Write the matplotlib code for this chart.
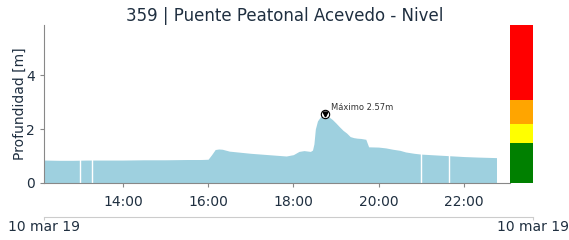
import numpy as np
import pandas as pd
import matplotlib
matplotlib.use("Agg")
import matplotlib.pyplot as plt
import matplotlib.dates as mdates

# datos del sensor (hora, profundidad en m)
horas = ["12:09", "12:30", "12:50", "13:10", "13:30", "14:00", "14:30", "15:00", "15:30", "15:50",
         "16:00", "16:05", "16:10", "16:15", "16:20", "16:30", "16:45", "17:00", "17:15", "17:30",
         "17:50", "18:00", "18:08", "18:15", "18:24", "18:27", "18:29", "18:31", "18:34", "18:38",
         "18:42", "18:45", "18:50", "18:55", "19:00", "19:05", "19:10", "19:15", "19:20", "19:25",
         "19:30", "19:35", "19:42", "19:46", "20:00", "20:10", "20:20", "20:30", "20:38", "20:50",
         "21:00", "21:20", "21:40", "22:00", "22:20", "22:46"]
nivel = [0.85, 0.84, 0.84, 0.85, 0.85, 0.85, 0.86, 0.86, 0.87, 0.87,
         0.88, 1.05, 1.24, 1.26, 1.25, 1.18, 1.14, 1.10, 1.07, 1.04,
         1.00, 1.05, 1.17, 1.20, 1.17, 1.22, 1.45, 2.00, 2.30, 2.45,
         2.52, 2.57, 2.45, 2.35, 2.22, 2.08, 1.95, 1.85, 1.72, 1.68,
         1.66, 1.65, 1.62, 1.34, 1.33, 1.30, 1.25, 1.21, 1.15, 1.10,
         1.07, 1.04, 1.01, 0.98, 0.96, 0.94]
# huecos sin datos
huecos = ["13:00", "13:16", "21:00", "21:39"]

# umbrales de alerta
umbrales = [0, 1.48, 2.19, 3.07, 5.85]
colores_alerta = ["#008000", "#ffff00", "#ffa500", "#ff0000"]

fecha = "2019-03-10 "
t = pd.to_datetime([fecha + h for h in horas])
t_huecos = pd.to_datetime([fecha + h for h in huecos])
nivel = np.array(nivel)

texto = "#1f2f40"
gris = "#888888"

fig = plt.figure(figsize=(5.69, 2.40), dpi=100)
ax = fig.add_axes([0.0773, 0.2375, 0.819, 0.658])
ax.fill_between(t, nivel, color="#9ed0df", lw=0)
for h in t_huecos:
    ax.axvline(h, color="white", lw=1)

# maximo
i_max = int(np.argmax(nivel))
ax.plot(t[i_max], nivel[i_max], "o", ms=6, mfc="white", mec="black", mew=0.8)
ax.plot(t[i_max], nivel[i_max], "v", ms=3.5, color="black")
ax.annotate("Máximo %.2fm" % nivel[i_max], (t[i_max], nivel[i_max]),
            xytext=(6, 4), textcoords="offset pixels", fontsize=6, color="#333333")

ax.set_xlim(pd.Timestamp(fecha + "12:09"), pd.Timestamp(fecha + "23:05"))
ax.set_ylim(0, 5.85)
ax.set_yticks([0, 2, 4])
ax.xaxis.set_major_locator(mdates.HourLocator(byhour=[14, 16, 18, 20, 22]))
ax.xaxis.set_major_formatter(mdates.DateFormatter("%H:%M"))
for s in ["top", "right"]:
    ax.spines[s].set_visible(False)
for s in ["left", "bottom"]:
    ax.spines[s].set_color(gris)
ax.tick_params(colors=gris, labelcolor=texto, labelsize=10, length=3)
ax.tick_params(axis="x", pad=6)
ax.set_ylabel("Profundidad [m]", fontsize=10, color=texto)
ax.yaxis.set_label_coords(-0.036, 0.5)
fig.suptitle("359 | Puente Peatonal Acevedo - Nivel", fontsize=12, color=texto, y=0.97)

# barra de alertas
axc = fig.add_axes([0.8963, 0.2375, 0.0404, 0.658])
for k in range(len(colores_alerta)):
    axc.bar(0, umbrales[k + 1] - umbrales[k], bottom=umbrales[k], width=1,
            color=colores_alerta[k])
axc.set_xlim(-0.5, 0.5)
axc.set_ylim(0, 5.85)
axc.axis("off")

# eje de fechas
axd = fig.add_axes([0.0773, 0.0958, 0.8594, 0.01])
axd.set_xlim(0, 1)
axd.set_yticks([])
for s in ["top", "right", "left"]:
    axd.spines[s].set_visible(False)
axd.spines["bottom"].set_color("#cccccc")
axd.set_xticks([0, 1])
axd.set_xticklabels(["10 mar 19", "10 mar 19"])
axd.tick_params(colors="#cccccc", labelcolor=texto, labelsize=10, length=2, pad=0)
axd.patch.set_visible(False)

fig.savefig("out.png", dpi=100)
